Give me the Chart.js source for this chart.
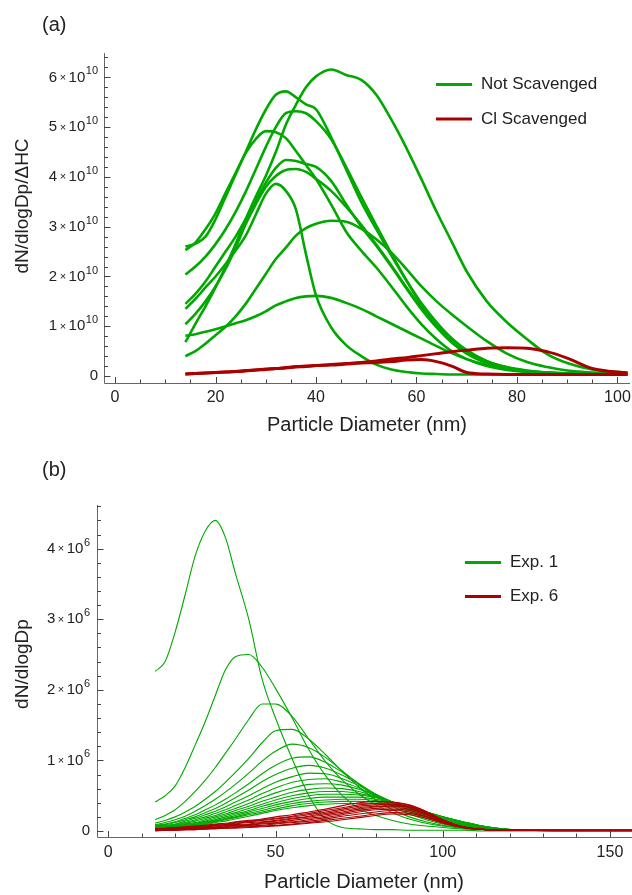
<!DOCTYPE html>
<html>
<head>
<meta charset="utf-8">
<script src="https://cdn.jsdelivr.net/npm/chart.js@4.4.1/dist/chart.umd.min.js"></script>
<style>
  html, body { margin: 0; padding: 0; background: #fff; }
  canvas { display: block; }
</style>
</head>
<body>
<canvas id="chartA" width="632" height="447"></canvas>
<canvas id="chartB" width="632" height="448"></canvas>
<script>
// ---- panel (a): dN/dlogDp/ΔHC, values in units of 1e10 ----
var diamA = [14,16,18,20,22,24,26,28,30,32,34,36,38,40,43,46,49,52,55,58,61,64,67,70,74,78,82,86,90,95,102];

var notScavenged = [
  [0.68,1.05,1.40,1.78,2.20,2.65,3.15,3.60,4.02,4.50,5.05,5.45,5.80,6.02,6.16,6.05,5.95,5.65,5.15,4.58,3.95,3.30,2.70,2.10,1.50,1.08,0.74,0.44,0.26,0.13,0.07],
  [2.60,2.66,2.80,3.15,3.60,4.05,4.50,4.95,5.35,5.65,5.72,5.60,5.46,5.36,4.80,4.15,3.50,2.95,2.42,1.92,1.46,1.08,0.76,0.52,0.30,0.17,0.10,0.07,0.05,0.04,0.04],
  [2.04,2.20,2.40,2.65,2.95,3.30,3.70,4.15,4.60,5.00,5.28,5.32,5.28,5.12,4.76,4.20,3.60,3.02,2.46,1.92,1.42,1.00,0.68,0.45,0.26,0.15,0.09,0.06,0.05,0.04,0.04],
  [2.53,2.68,2.95,3.27,3.68,4.08,4.48,4.76,4.92,4.90,4.78,4.52,4.24,3.96,3.45,2.90,2.52,2.18,1.80,1.40,1.04,0.74,0.50,0.34,0.20,0.12,0.08,0.06,0.05,0.04,0.04],
  [1.45,1.65,1.90,2.20,2.50,2.80,3.15,3.52,3.88,4.18,4.34,4.32,4.26,4.20,3.92,3.45,3.00,2.62,2.20,1.76,1.34,0.98,0.68,0.46,0.28,0.17,0.10,0.07,0.05,0.04,0.04],
  [1.04,1.25,1.50,1.80,2.15,2.58,3.05,3.45,3.80,4.02,4.14,4.16,4.10,3.96,3.72,3.40,3.04,2.64,2.22,1.78,1.38,1.02,0.72,0.50,0.30,0.18,0.11,0.07,0.05,0.04,0.04],
  [1.35,1.55,1.78,2.00,2.25,2.52,2.82,3.24,3.66,3.86,3.72,3.35,2.45,1.62,0.98,0.62,0.40,0.23,0.13,0.08,0.05,0.04,0.03,0.03,0.03,0.03,0.03,0.03,0.03,0.03,0.03],
  [0.40,0.50,0.65,0.82,0.99,1.20,1.45,1.75,2.05,2.35,2.58,2.82,2.97,3.06,3.12,3.10,2.96,2.75,2.48,2.15,1.80,1.50,1.24,1.00,0.70,0.45,0.28,0.18,0.11,0.07,0.05],
  [0.81,0.84,0.89,0.94,1.00,1.06,1.12,1.20,1.30,1.42,1.50,1.57,1.60,1.61,1.57,1.47,1.35,1.20,1.05,0.90,0.75,0.60,0.46,0.34,0.22,0.14,0.09,0.06,0.05,0.04,0.04]
];

var clScavenged = [
  [0.04,0.05,0.06,0.07,0.08,0.09,0.11,0.12,0.14,0.15,0.17,0.19,0.20,0.21,0.23,0.25,0.27,0.30,0.34,0.37,0.41,0.45,0.49,0.52,0.56,0.57,0.56,0.49,0.36,0.15,0.06],
  [0.04,0.05,0.06,0.07,0.08,0.09,0.10,0.12,0.13,0.15,0.16,0.18,0.19,0.21,0.22,0.24,0.26,0.27,0.29,0.32,0.33,0.29,0.20,0.07,0.04,0.03,0.03,0.03,0.03,0.03,0.03]
];

// ---- panel (b): dN/dlogDp, values in units of 1e6 ----
var diamB = [14,17,20,23,26,29,32,35,38,42,46,50,55,60,65,70,75,80,85,90,95,100,106,113,125,157];

var exp1 = [
  [2.26,2.40,2.82,3.35,3.90,4.25,4.40,4.16,3.65,3.00,2.15,1.60,1.02,0.50,0.16,0.05,0.03,0.02,0.02,0.01,0.01,0.01,0.01,0,0,0],
  [0.41,0.50,0.64,0.90,1.22,1.55,1.92,2.28,2.47,2.50,2.32,2.02,1.60,1.15,0.78,0.50,0.32,0.22,0.15,0.10,0.07,0.05,0.03,0.02,0.01,0],
  [0.16,0.22,0.30,0.42,0.56,0.72,0.90,1.10,1.30,1.58,1.80,1.80,1.62,1.30,0.98,0.72,0.52,0.37,0.26,0.17,0.11,0.07,0.04,0.02,0.01,0],
  [0.11,0.15,0.20,0.27,0.35,0.45,0.56,0.69,0.83,1.03,1.25,1.42,1.44,1.30,1.08,0.84,0.62,0.44,0.30,0.20,0.13,0.08,0.05,0.02,0.01,0],
  [0.09,0.12,0.16,0.21,0.28,0.36,0.45,0.55,0.66,0.82,0.99,1.13,1.23,1.18,1.04,0.85,0.66,0.49,0.35,0.24,0.16,0.10,0.06,0.03,0.01,0],
  [0.08,0.10,0.13,0.18,0.23,0.30,0.37,0.45,0.54,0.67,0.81,0.93,1.03,1.05,0.97,0.83,0.67,0.51,0.38,0.27,0.18,0.12,0.07,0.03,0.01,0],
  [0.07,0.09,0.12,0.16,0.20,0.26,0.32,0.39,0.47,0.58,0.70,0.80,0.89,0.93,0.89,0.79,0.66,0.52,0.40,0.29,0.20,0.13,0.08,0.04,0.01,0],
  [0.06,0.08,0.10,0.14,0.18,0.23,0.28,0.34,0.41,0.50,0.60,0.69,0.77,0.82,0.81,0.74,0.64,0.52,0.41,0.30,0.21,0.14,0.08,0.04,0.01,0],
  [0.06,0.07,0.09,0.12,0.16,0.20,0.25,0.30,0.36,0.44,0.53,0.61,0.69,0.73,0.74,0.69,0.61,0.51,0.41,0.31,0.22,0.15,0.09,0.04,0.01,0],
  [0.05,0.06,0.08,0.11,0.14,0.18,0.22,0.27,0.32,0.39,0.47,0.54,0.61,0.66,0.67,0.65,0.59,0.50,0.41,0.32,0.23,0.16,0.10,0.05,0.01,0],
  [0.05,0.06,0.07,0.10,0.12,0.16,0.20,0.24,0.29,0.35,0.42,0.48,0.55,0.59,0.61,0.60,0.56,0.49,0.41,0.32,0.24,0.17,0.10,0.05,0.01,0],
  [0.04,0.05,0.07,0.09,0.11,0.14,0.18,0.22,0.26,0.32,0.38,0.44,0.50,0.54,0.56,0.56,0.53,0.48,0.41,0.33,0.25,0.18,0.11,0.05,0.01,0],
  [0.04,0.05,0.06,0.08,0.10,0.13,0.16,0.20,0.24,0.29,0.35,0.40,0.46,0.50,0.52,0.52,0.51,0.47,0.41,0.34,0.26,0.19,0.12,0.06,0.01,0],
  [0.04,0.05,0.06,0.07,0.09,0.12,0.15,0.18,0.22,0.27,0.32,0.37,0.42,0.46,0.48,0.48,0.48,0.45,0.40,0.34,0.27,0.20,0.12,0.06,0.01,0],
  [0.03,0.04,0.05,0.07,0.09,0.11,0.14,0.17,0.20,0.25,0.29,0.34,0.39,0.42,0.44,0.45,0.45,0.43,0.39,0.34,0.27,0.20,0.13,0.06,0.01,0],
  [0.03,0.04,0.05,0.06,0.08,0.10,0.13,0.16,0.19,0.23,0.27,0.31,0.36,0.39,0.41,0.42,0.42,0.41,0.38,0.33,0.27,0.20,0.13,0.06,0.01,0],
  [0.03,0.04,0.04,0.06,0.07,0.09,0.12,0.14,0.17,0.21,0.25,0.29,0.33,0.36,0.38,0.39,0.39,0.39,0.37,0.33,0.27,0.20,0.13,0.06,0.01,0]
];

var exp6 = [
  [0.03,0.04,0.05,0.06,0.07,0.08,0.10,0.11,0.13,0.15,0.17,0.20,0.23,0.27,0.31,0.36,0.40,0.42,0.41,0.37,0.28,0.16,0.06,0.02,0.01,0.01],
  [0.03,0.04,0.04,0.05,0.06,0.07,0.09,0.10,0.12,0.14,0.16,0.18,0.21,0.25,0.29,0.33,0.37,0.39,0.40,0.36,0.27,0.16,0.06,0.02,0.01,0.01],
  [0.02,0.03,0.04,0.05,0.06,0.07,0.08,0.09,0.11,0.13,0.15,0.17,0.20,0.23,0.27,0.31,0.35,0.37,0.38,0.35,0.27,0.15,0.06,0.02,0.01,0.01],
  [0.02,0.03,0.03,0.04,0.05,0.06,0.07,0.08,0.10,0.12,0.13,0.15,0.18,0.21,0.25,0.29,0.33,0.35,0.36,0.34,0.26,0.15,0.06,0.02,0.01,0.01],
  [0.02,0.02,0.03,0.04,0.04,0.05,0.06,0.07,0.09,0.10,0.12,0.14,0.17,0.20,0.23,0.27,0.31,0.34,0.35,0.33,0.25,0.14,0.06,0.02,0.01,0.01],
  [0.01,0.02,0.02,0.03,0.04,0.05,0.05,0.06,0.08,0.09,0.11,0.12,0.15,0.18,0.21,0.25,0.29,0.32,0.33,0.31,0.24,0.14,0.06,0.02,0.01,0.01],
  [0.01,0.02,0.02,0.03,0.03,0.04,0.05,0.05,0.07,0.08,0.10,0.11,0.13,0.16,0.19,0.23,0.27,0.30,0.31,0.29,0.23,0.13,0.05,0.02,0.01,0.01],
  [0.01,0.01,0.02,0.02,0.03,0.03,0.04,0.05,0.06,0.07,0.08,0.10,0.12,0.14,0.17,0.21,0.24,0.27,0.29,0.27,0.21,0.12,0.05,0.02,0.01,0.01],
  [0.01,0.01,0.01,0.02,0.02,0.03,0.04,0.04,0.05,0.06,0.07,0.08,0.10,0.12,0.15,0.18,0.21,0.24,0.26,0.25,0.20,0.12,0.05,0.02,0.01,0.01],
  [0.00,0.01,0.01,0.02,0.02,0.03,0.03,0.04,0.04,0.05,0.06,0.07,0.09,0.11,0.13,0.16,0.19,0.22,0.24,0.23,0.18,0.11,0.05,0.02,0.01,0.01]
];

// tick labels
var xTicksA = [0, 20, 40, 60, 80, 100];
var yTicksA = [0, 1, 2, 3, 4, 5, 6];   // x 10^10
var xTicksB = [0, 50, 100, 150];
var yTicksB = [0, 1, 2, 3, 4];         // x 10^6

var GREEN = 'rgb(0,168,0)';
var RED = 'rgb(170,0,0)';
var FONT = '"Liberation Sans", Arial, sans-serif';

function toPoints(xs, ys) {
  return xs.map(function (x, i) { return { x: x, y: ys[i] }; });
}

function sciLabel(ctx, k, exp, xRight, y) {
  var big = '15px ' + FONT, small = '11px ' + FONT;
  ctx.textBaseline = 'middle';
  if (k === 0) {
    ctx.font = big; ctx.textAlign = 'right';
    ctx.fillText('0', xRight, y);
    return;
  }
  ctx.font = small;
  var wExp = ctx.measureText(String(exp)).width;
  var wX = ctx.measureText('\u00d7').width;
  ctx.font = big;
  var wTen = ctx.measureText('10').width;
  var wK = ctx.measureText(String(k)).width;
  var gap = 2.5;
  var x = xRight - wExp - 0.5 - wTen - gap - wX - gap - wK;
  ctx.textAlign = 'left';
  ctx.font = big; ctx.fillText(String(k), x, y); x += wK + gap;
  ctx.font = small; ctx.fillText('\u00d7', x, y + 0.5); x += wX + gap;
  ctx.font = big; ctx.fillText('10', x, y); x += wTen + 0.5;
  ctx.font = small; ctx.fillText(String(exp), x, y - 6);
}

// draws Mathematica-like axes (inward ticks), titles and legend using the chart's scales
var axisPainter = {
  id: 'axisPainter',
  afterDatasetsDraw: function (chart, args, o) {
    var ctx = chart.ctx, xs = chart.scales.x, ys = chart.scales.y, a = chart.chartArea;
    var i, v, px, py;
    ctx.save();
    ctx.strokeStyle = '#666';
    ctx.lineWidth = 1;
    ctx.beginPath();
    ctx.moveTo(a.left + 0.5, a.top);
    ctx.lineTo(a.left + 0.5, a.bottom + 0.5);
    ctx.lineTo(a.right, a.bottom + 0.5);
    ctx.stroke();

    // x ticks
    ctx.strokeStyle = '#444';
    ctx.beginPath();
    for (i = 0; i * o.xMinor <= xs.max; i++) {
      v = i * o.xMinor;
      px = Math.round(xs.getPixelForValue(v)) + 0.5;
      var len = (v % o.xMajor === 0) ? 6 : 3.5;
      ctx.moveTo(px, a.bottom);
      ctx.lineTo(px, a.bottom - len);
    }
    // y ticks
    for (i = 0; i * o.yMinor <= ys.max + 1e-9; i++) {
      v = i * o.yMinor;
      py = Math.round(ys.getPixelForValue(v)) + 0.5;
      var major = Math.abs(v - Math.round(v)) < 1e-6;
      ctx.moveTo(a.left, py);
      ctx.lineTo(a.left + (major ? 6.5 : 4), py);
    }
    ctx.stroke();

    ctx.fillStyle = '#222';
    ctx.font = '16px ' + FONT;
    ctx.textAlign = 'center';
    ctx.textBaseline = 'middle';
    o.xTicks.forEach(function (t) {
      ctx.fillText(String(t), xs.getPixelForValue(t), a.bottom + o.xLabelOffset);
    });
    o.yTicks.forEach(function (t) {
      sciLabel(ctx, t, o.exponent, a.left - o.yLabelGap, ys.getPixelForValue(t));
    });

    // titles
    ctx.font = '20px ' + FONT;
    ctx.textAlign = 'center';
    ctx.fillText(o.xTitle, o.xTitlePos[0], o.xTitlePos[1]);
    ctx.save();
    ctx.translate(o.yTitlePos[0], o.yTitlePos[1]);
    ctx.rotate(-Math.PI / 2);
    ctx.font = '19px ' + FONT;
    ctx.fillText(o.yTitle, 0, 0);
    ctx.restore();
    ctx.font = '20px ' + FONT;
    ctx.textAlign = 'left';
    ctx.fillText(o.panel, 42, o.panelY);

    // legend
    o.legend.forEach(function (it) {
      ctx.strokeStyle = it.color;
      ctx.lineWidth = 3;
      ctx.beginPath();
      ctx.moveTo(o.legendX[0], it.y);
      ctx.lineTo(o.legendX[1], it.y);
      ctx.stroke();
      ctx.fillStyle = '#222';
      ctx.font = '17px ' + FONT;
      ctx.textAlign = 'left';
      ctx.fillText(it.label, o.legendX[2], it.y);
    });
    ctx.restore();
  }
};

function lineSet(xs, ys, color, width, order) {
  return {
    data: toPoints(xs, ys),
    borderColor: color,
    borderWidth: width,
    pointRadius: 0,
    fill: false,
    order: order,
    cubicInterpolationMode: 'monotone'
  };
}

var setsA = [];
clScavenged.forEach(function (s) { setsA.push(lineSet(diamA, s, RED, 3, 0)); });
notScavenged.forEach(function (s) { setsA.push(lineSet(diamA, s, GREEN, 2.6, 1)); });

var setsB = [];
exp6.forEach(function (s) { setsB.push(lineSet(diamB, s, RED, 1.1, 0)); });
exp1.forEach(function (s) { setsB.push(lineSet(diamB, s, GREEN, 1.1, 1)); });

new Chart(document.getElementById('chartA'), {
  type: 'line',
  data: { datasets: setsA },
  plugins: [axisPainter],
  options: {
    responsive: false,
    animation: false,
    devicePixelRatio: 1,
    layout: { padding: { left: 104, right: 2, top: 53, bottom: 64 } },
    scales: {
      x: { type: 'linear', display: false, min: -2.2, max: 102.5 },
      y: { type: 'linear', display: false, min: -0.14, max: 6.49 }
    },
    plugins: {
      legend: { display: false },
      tooltip: { enabled: false },
      axisPainter: {
        xMajor: 20, xMinor: 5, yMinor: 0.2,
        xTicks: xTicksA, yTicks: yTicksA, exponent: 10,
        xLabelOffset: 14.5, yLabelGap: 6,
        xTitle: 'Particle Diameter (nm)', xTitlePos: [367, 425],
        yTitle: 'dN/dlogDp/\u0394HC', yTitlePos: [23, 206],
        panel: '(a)', panelY: 25,
        legendX: [436, 472, 481],
        legend: [
          { label: 'Not Scavenged', color: GREEN, y: 84.5 },
          { label: 'Cl Scavenged', color: RED, y: 119 }
        ]
      }
    }
  }
});

new Chart(document.getElementById('chartB'), {
  type: 'line',
  data: { datasets: setsB },
  plugins: [axisPainter],
  options: {
    responsive: false,
    animation: false,
    devicePixelRatio: 1,
    layout: { padding: { left: 97, right: 0, top: 58, bottom: 58 } },
    scales: {
      x: { type: 'linear', display: false, min: -3.38, max: 156.6 },
      y: { type: 'linear', display: false, min: -0.085, max: 4.618 }
    },
    plugins: {
      legend: { display: false },
      tooltip: { enabled: false },
      axisPainter: {
        xMajor: 50, xMinor: 10, yMinor: 0.2,
        xTicks: xTicksB, yTicks: yTicksB, exponent: 6,
        xLabelOffset: 16, yLabelGap: 7,
        xTitle: 'Particle Diameter (nm)', xTitlePos: [364, 435],
        yTitle: 'dN/dlogDp', yTitlePos: [23, 217],
        panel: '(b)', panelY: 23,
        legendX: [465, 501, 510],
        legend: [
          { label: 'Exp. 1', color: GREEN, y: 115.5 },
          { label: 'Exp. 6', color: RED, y: 149.5 }
        ]
      }
    }
  }
});
</script>
</body>
</html>
